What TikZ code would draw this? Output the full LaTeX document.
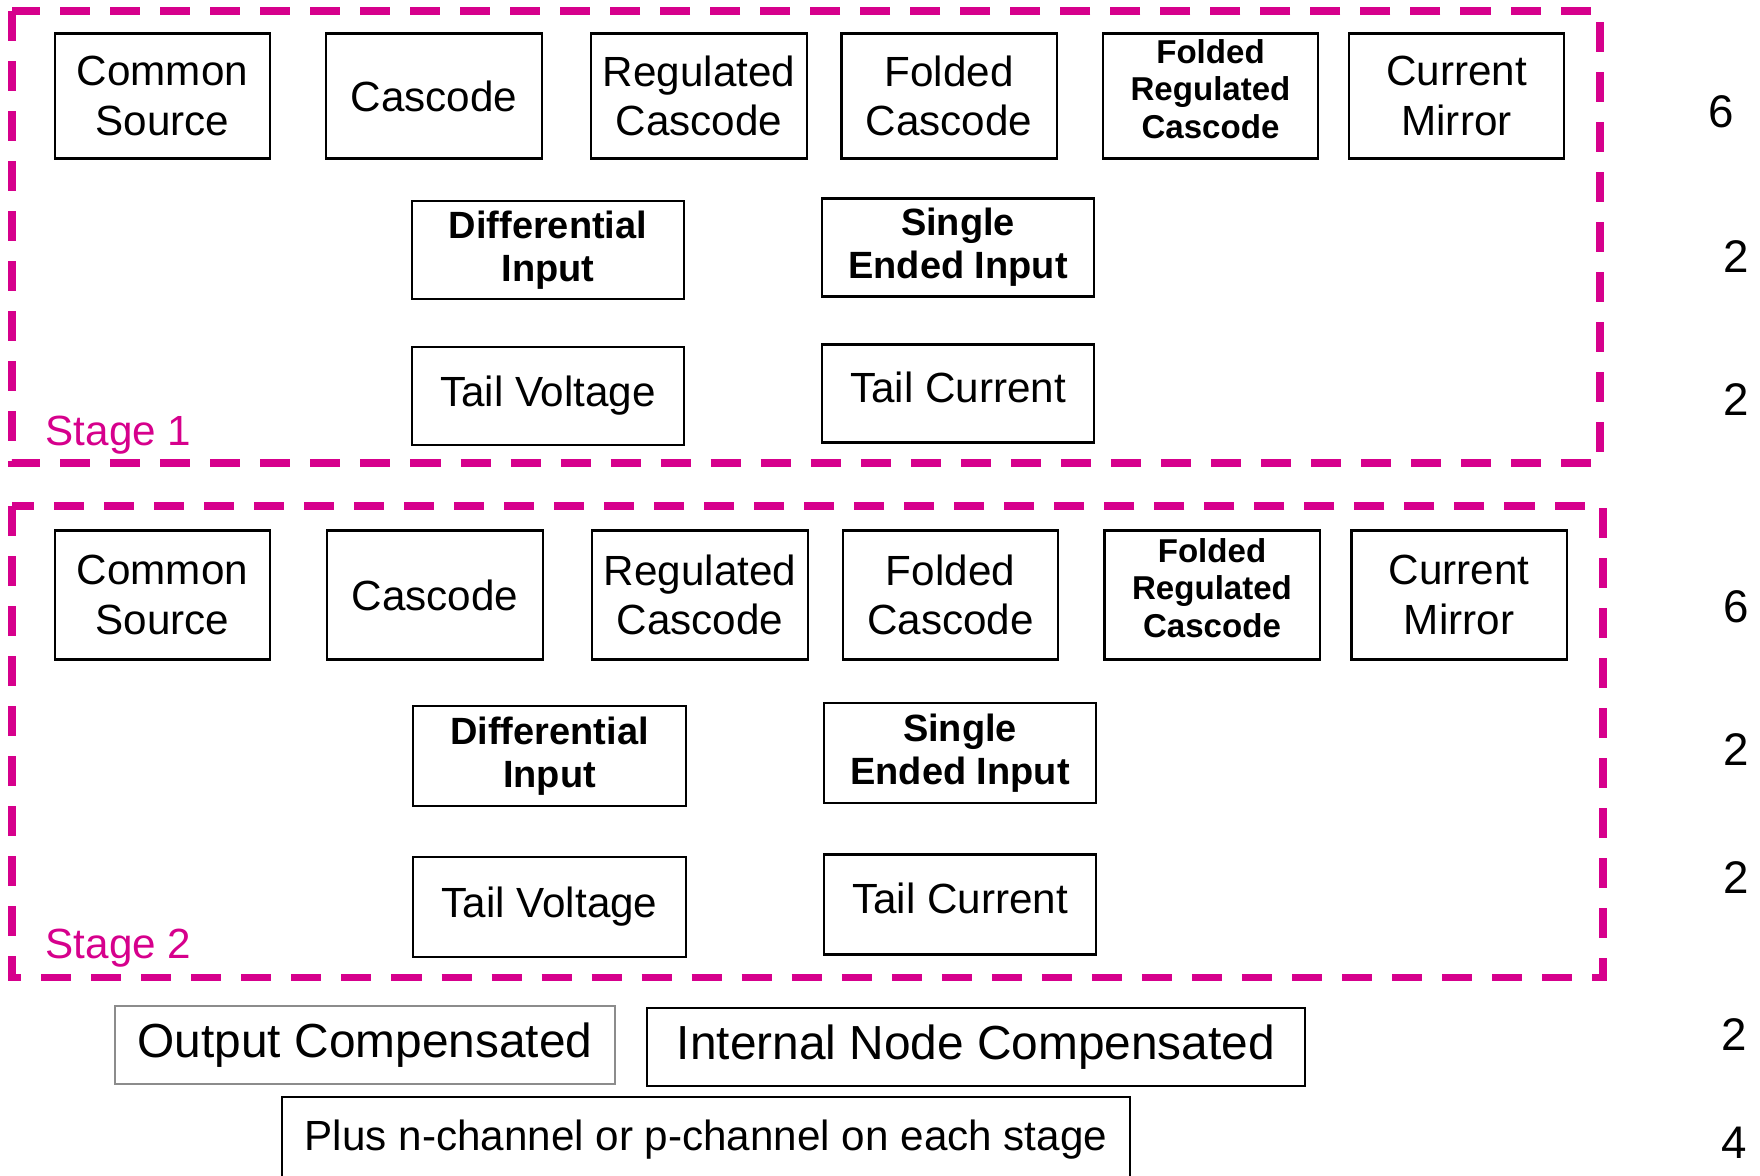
\documentclass[tikz,border=0pt]{standalone}
\usepackage{fontspec}
\setmainfont{Liberation Sans}
\definecolor{stagepink}{RGB}{214,0,140}

\begin{document}
\begin{tikzpicture}[x=0.01cm,y=-0.01cm,
  blk/.style={draw=black, line width=0.6pt, align=center, inner sep=0pt,
    font=\fontsize{12}{14}\selectfont},
  topblk/.style={blk, minimum width=2.15cm, minimum height=1.25cm},
  topblktwo/.style={blk, minimum width=2.15cm, minimum height=1.29cm},
  midblk/.style={blk, minimum width=2.72cm, minimum height=0.98cm},
  boldtxt/.style={font=\fontsize{10.8}{12.3}\selectfont\bfseries},
  smallbold/.style={font=\fontsize{9.4}{10.7}\selectfont\bfseries, text depth=0.14cm},
  raised/.style={text depth=0.12cm},
  stagebox/.style={draw=stagepink, line width=2pt, dash pattern=on 0.3cm off 0.2cm},
  stagelbl/.style={anchor=base west, inner sep=0pt, text=stagepink,
    font=\fontsize{12}{14}\selectfont},
  count/.style={font=\fontsize{13}{15}\selectfont}]

\useasboundingbox (0,0) rectangle (1760,1175);
\clip (0,0) rectangle (1760,1175);

% stage 1
\draw [stagebox] (12,11) rectangle (1600,463);
\node [stagelbl] (lbl1) at (45,445) {Stage 1};

\node [topblk] (cs1) at (162.5,96) {Common\\Source};
\node [topblk] (cas1) at (434,96) {Cascode};
\node [topblk] (rc1) at (699,96) {Regulated\\Cascode};
\node [topblk] (fc1) at (949,96) {Folded\\Cascode};
\node [topblk,smallbold] (frc1) at (1210.5,96) {Folded\\Regulated\\Cascode};
\node [topblk] (cm1) at (1456.5,96) {Current\\Mirror};

\node [midblk,boldtxt] (di1) at (548,250) {Differential\\Input};
\node [midblk,boldtxt] (se1) at (958,247.5) {Single\\Ended Input};
\node [midblk] (tv1) at (548,396) {Tail Voltage};
\node [midblk,raised] (tc1) at (958,393.5) {Tail Current};

% stage 2
\draw [stagebox] (12,506) rectangle (1603,977);
\node [stagelbl] (lbl2) at (45,958) {Stage 2};

\node [topblktwo] (cs2) at (162.5,595) {Common\\Source};
\node [topblktwo] (cas2) at (435,595) {Cascode};
\node [topblktwo] (rc2) at (700,595) {Regulated\\Cascode};
\node [topblktwo] (fc2) at (950.5,595) {Folded\\Cascode};
\node [topblktwo,smallbold] (frc2) at (1212,595) {Folded\\Regulated\\Cascode};
\node [topblktwo] (cm2) at (1459,595) {Current\\Mirror};

\node [midblk,boldtxt,minimum height=1cm] (di2) at (549.5,756) {Differential\\Input};
\node [midblk,boldtxt,minimum height=1cm] (se2) at (960,753) {Single\\Ended Input};
\node [midblk,minimum height=1cm] (tv2) at (549.5,907) {Tail Voltage};
\node [midblk,raised,minimum height=1cm] (tc2) at (960,904.5) {Tail Current};

% compensation and device type
\node [blk, draw=black!45, minimum width=4.99cm, minimum height=0.78cm,
  font=\fontsize{13.6}{16}\selectfont] (oc) at (365,1045) {Output Compensated};
\node [blk, minimum width=6.58cm, minimum height=0.78cm,
  font=\fontsize{13.6}{16}\selectfont] (inc) at (976,1047) {Internal Node Compensated};
\node [blk, minimum width=8.48cm, minimum height=0.86cm] (chan) at (706,1140)
  {Plus n-channel or p-channel on each stage};

% counts
\node [count] (n1) at (1721,112) {6};
\node [count] (n2) at (1736,257) {2};
\node [count] (n3) at (1736,400) {2};
\node [count] (n4) at (1736,607) {6};
\node [count] (n5) at (1736,750) {2};
\node [count] (n6) at (1736,878) {2};
\node [count] (n7) at (1734,1035) {2};
\node [count] (n8) at (1734,1143) {4};

\end{tikzpicture}
\end{document}
